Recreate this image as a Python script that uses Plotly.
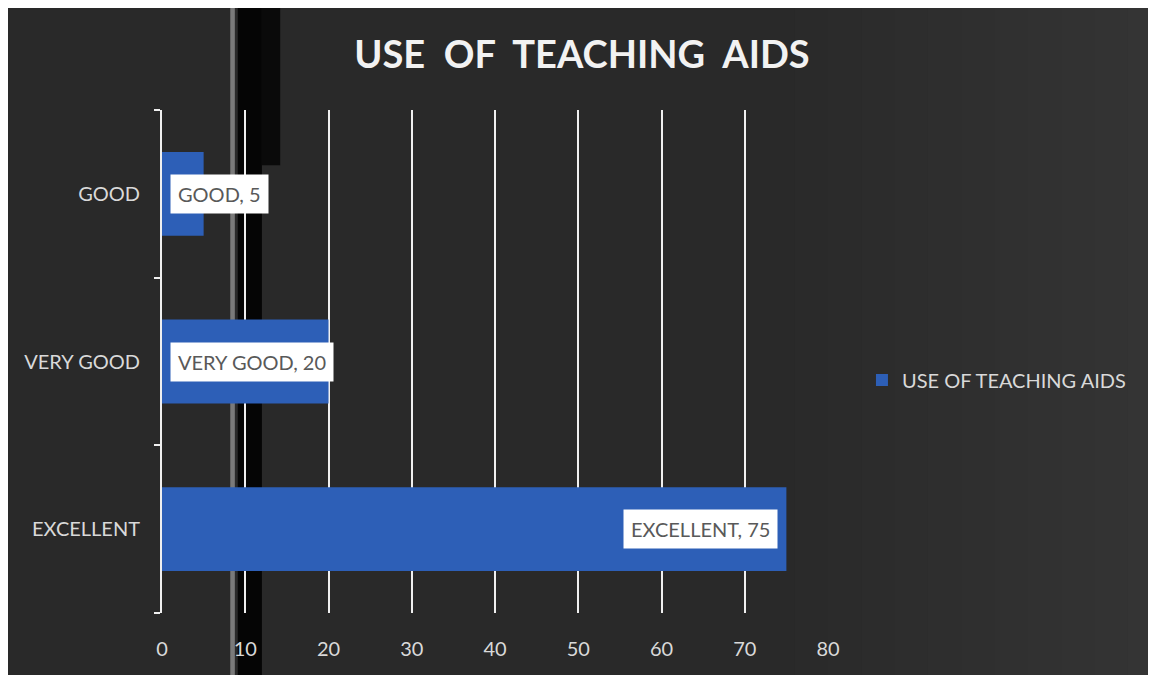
import plotly.graph_objects as go

# Data
categories = ["EXCELLENT", "VERY GOOD", "GOOD"]
values = [75, 20, 5]
series_name = "USE OF TEACHING AIDS"
x_ticks = [0, 10, 20, 30, 40, 50, 60, 70, 80]

BAR_BLUE = "#2d5fb7"
BG = "#292929"
FONT = "Lato, 'Noto Sans', sans-serif"

fig = go.Figure()

fig.add_trace(go.Bar(
    y=categories, x=values, orientation="h", name=series_name,
    marker=dict(color=BAR_BLUE, line=dict(width=0)),
    showlegend=True,
))

# data labels in white boxes
for cat, val in zip(categories, values):
    inside_end = val > 40
    fig.add_annotation(
        x=val - 1 if inside_end else 1, y=cat,
        xanchor="right" if inside_end else "left",
        text=f"{cat}, {val}", showarrow=False,
        bgcolor="white", borderpad=7,
        font=dict(family=FONT, size=20, color="#595959"),
    )

# background: slowly lighter towards the right
for i in range(12):
    shade = 0x2a + i
    fig.add_shape(type="rect", xref="paper", yref="paper", x0=0.95 + i * 0.05, x1=1.6, y0=-0.2, y1=1.3,
                  fillcolor=f"#{shade:02x}{shade:02x}{shade:02x}", line_width=0, layer="below")
# dark streak from the photo
fig.add_shape(type="rect", xref="x", yref="paper", x0=8.2, x1=8.75, y0=-0.2, y1=1.3,
              fillcolor="#7a7a7a", line_width=0, layer="below")
fig.add_shape(type="rect", xref="x", yref="paper", x0=9.1, x1=12.0, y0=-0.2, y1=1.3,
              fillcolor="#050505", line_width=0, layer="below")
fig.add_shape(type="rect", xref="x", yref="paper", x0=12.0, x1=14.2, y0=0.89, y1=1.3,
              fillcolor="#0a0a0a", line_width=0, layer="below")

fig.update_layout(
    width=1148, height=667,
    paper_bgcolor=BG, plot_bgcolor="rgba(0,0,0,0)",
    margin=dict(l=154, r=328, t=102, b=62),
    title=dict(text="USE\u00a0\u00a0OF\u00a0\u00a0TEACHING\u00a0\u00a0AIDS", x=0.5, xanchor="center",
               y=0.93, yanchor="middle",
               font=dict(family=FONT, size=38, color="#f2f2f2", weight="bold")),
    bargap=0.5,
    legend=dict(x=1.051, xanchor="left", y=0.463, yanchor="middle",
                font=dict(family=FONT, size=20, color="#d9d9d9"), bgcolor="rgba(0,0,0,0)"),
    showlegend=True,
)

fig.update_xaxes(
    range=[0, 80], tickvals=x_ticks, showgrid=True, gridcolor="#f0f0f0", gridwidth=1.5,
    zeroline=False, showline=False, ticks="outside", ticklen=18, tickcolor="rgba(0,0,0,0)",
    tickfont=dict(family=FONT, size=20, color="#d9d9d9"),
)
fig.update_yaxes(
    categoryorder="array", categoryarray=categories,
    showline=True, linecolor="#f0f0f0", linewidth=2,
    ticks="outside", tickson="boundaries", ticklen=6, tickcolor="#f0f0f0", tickwidth=2,
    ticklabelstandoff=16, showgrid=False,
    tickfont=dict(family=FONT, size=20, color="#d9d9d9"),
)

fig.write_html("out.html")
